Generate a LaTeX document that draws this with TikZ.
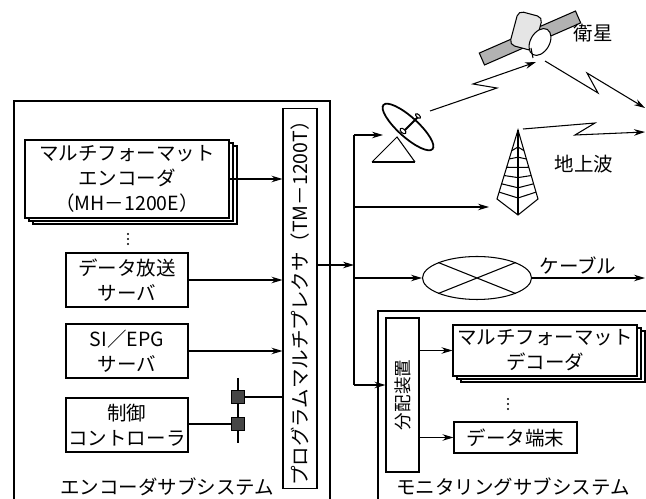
\documentclass[tikz,border=0pt]{standalone}
\usepackage{fontspec}
\newfontfamily\jpfont{Noto Sans CJK JP}
\usetikzlibrary{arrows.meta, positioning, shapes.geometric, calc, shadows}

\begin{document}
\begin{tikzpicture}[
  x=0.02cm, y=-0.02cm, line width=0.6pt,
  font=\jpfont\fontsize{11.1}{14.2}\selectfont,
  box/.style={rectangle, draw=black, fill=white, inner sep=0pt, align=center},
  stackbox/.style={box, double copy shadow={shadow xshift=0.08cm, shadow yshift=-0.06cm}},
  arrow/.style={-{Stealth[length=2.2mm, width=1.3mm]}},
  junction/.style={rectangle, draw=black, fill=gray!55!black, minimum size=0.26cm, inner sep=0pt},
  label/.style={inner sep=0pt}
]
\useasboundingbox (0,0) rectangle (646,499);

% Encoder subsystem
\draw (14,499) |- (330,101) -- (330,499);
\node[label] (enclabel) at (167,487) {エンコーダサブシステム};

\node[stackbox, minimum width=4.08cm, minimum height=1.56cm] (enc) at (127,179)
  {マルチフォーマット\\エンコーダ\\（MH－1200E）};
\coordinate (encdots) at (128,239);
\foreach \d in {-5,0,5}
  \fill ($(encdots)+(0,\d)$) circle (0.6pt);
\node[box, minimum width=2.44cm, minimum height=1.08cm] (dsrv) at (127,280) {データ放送\\サーバ};
\node[box, minimum width=2.44cm, minimum height=1.08cm] (epg) at (127,351) {SI／EPG\\サーバ};
\node[box, minimum width=2.44cm, minimum height=1.08cm] (ctrl) at (127,425) {制御\\コントローラ};

% Multiplexer
\node[box, minimum width=0.68cm, minimum height=7.62cm] (mux) at (300,298.5) {};
\node[label, rotate=90] (muxtext) at (mux.center) {プログラムマルチプレクサ（TM－1200T）};

\draw[arrow] (enc.east) -- (enc.east -| mux.west);
\draw[arrow] (dsrv.east) -- (dsrv.east -| mux.west);
\draw[arrow] (epg.east) -- (epg.east -| mux.west);

% Control line with junctions
\node[junction] (j1) at (238,397) {};
\node[junction] (j2) at (238,424) {};
\draw ($(j1)+(0,-19)$) -- (j1.north) (j1.south) -- (j2.north) (j2.south) -- ($(j2)+(0,19)$);
\draw (ctrl.east |- j2) -- (j2.west);
\draw (j1.east) -- (j1 -| mux.west);

% Distribution bus
\coordinate (bustop) at (354,135);
\coordinate (busbot) at (354,385);
\coordinate (tap) at (354,265);
\draw (bustop) -- (busbot);
\draw[arrow] (mux.east |- tap) -- (tap);

% Uplink dish
\node[draw, ellipse, rotate=-42, minimum width=1.32cm, minimum height=0.4cm,
      inner sep=0pt, line width=1pt] (dish) at (408,127) {};
\draw[line width=1.2pt] ($(dish.center)+(-4,4)$) -- ++(15,-15);
\draw[fill=white, rotate around={-42:(403,131)}] (403,131) ellipse (3.5 and 2);
\draw[fill=white, rotate around={-42:(418,116)}] (418,116) ellipse (3 and 1.5);
\draw (372,162) -- (397,137) -- (415,162);
\draw[line width=1.2pt] (372,162) -- (415,162);
\coordinate (dishin) at (383,135);
\draw[arrow] (bustop) -- (dishin);

% Satellite
\node[rectangle, draw=black, fill=gray!60, rotate=23.6, minimum width=2.1cm,
      minimum height=0.26cm, inner sep=0pt] (panel) at (530,38) {};
\node[rectangle, rounded corners=3pt, draw=black, fill=gray!20, rotate=-15,
      minimum width=0.5cm, minimum height=0.7cm, inner sep=0pt] (satbody) at (526,31) {};
\node[ellipse, draw=black, fill=white, rotate=-30, minimum width=0.38cm,
      minimum height=0.58cm, inner sep=0pt] (satdish) at (540,42) {};
\draw (531,48) -- (533,58);
\node[label] (satlabel) at (593,33) {衛星};

\coordinate (upfrom) at (430,111);
\coordinate (satin) at (536,62);
\draw[arrow] (upfrom) -- (497,88) -- (473,84) -- (satin);
\coordinate (downfrom) at (545,61);
\coordinate (downout) at (645,108);
\draw[arrow] (downfrom) -- (598,93) -- (587,73) -- (downout);

% Terrestrial tower
\coordinate (ta) at (518,130);
\coordinate (tl) at (497,199);
\coordinate (tr) at (538,199);
\coordinate (tb) at (518,215);
\draw (tl) -- (ta) -- (tr) -- (tb) -- cycle;
\draw (ta) -- (tb);
\foreach \t/\s in {0.3/0.2, 0.42/0.32, 0.54/0.44, 0.66/0.56, 0.78/0.68, 0.9/0.8}
  \draw ($(ta)!\t!(tl)$) -- ($(ta)!\s!(tb)$) -- ($(ta)!\t!(tr)$);
\coordinate (twin) at (489,207);
\draw[arrow] (bustop |- twin) -- (twin);
\node[label] (twlabel) at (584,164) {地上波};

\coordinate (twfrom) at (523,129);
\coordinate (twout) at (645,132);
\draw[arrow] (twfrom) -- (595,123) -- (575,135) -- (twout);

% Cable
\node[draw, ellipse, minimum width=2.18cm, minimum height=0.86cm, inner sep=0pt] (cable) at (477,278) {};
\draw (cable.north west) -- (cable.south east) (cable.south west) -- (cable.north east);
\draw[arrow] (bustop |- cable) -- (cable.west);
\coordinate (cabout) at (645,278);
\draw[arrow] (cable.east) -- (cabout);
\node[label] (cablabel) at (578,266) {ケーブル};

% Monitoring subsystem
\draw (378,499) |- (646,311);
\node[label] (monlabel) at (513,487) {モニタリングサブシステム};

\node[box, minimum width=0.66cm, minimum height=3.08cm] (dist) at (402.5,395) {};
\node[label, rotate=90, font=\jpfont\fontsize{10}{12}\selectfont] (disttext) at (dist.center) {分配装置};
\draw[arrow] (busbot) -- (busbot -| dist.west);

\node[stackbox, minimum width=3.68cm, minimum height=1.02cm] (dec) at (545,350.5)
  {マルチフォーマット\\デコーダ};
\coordinate (decdots) at (508,404);
\foreach \d in {-5,0,5}
  \fill ($(decdots)+(0,\d)$) circle (0.6pt);
\node[box, minimum width=2.46cm, minimum height=0.62cm] (term) at (515.5,437.5) {データ端末};

\draw[arrow] (dist.east |- dec.west) -- (dec.west);
\draw[arrow] (dist.east |- term.west) -- (term.west);

\end{tikzpicture}
\end{document}
